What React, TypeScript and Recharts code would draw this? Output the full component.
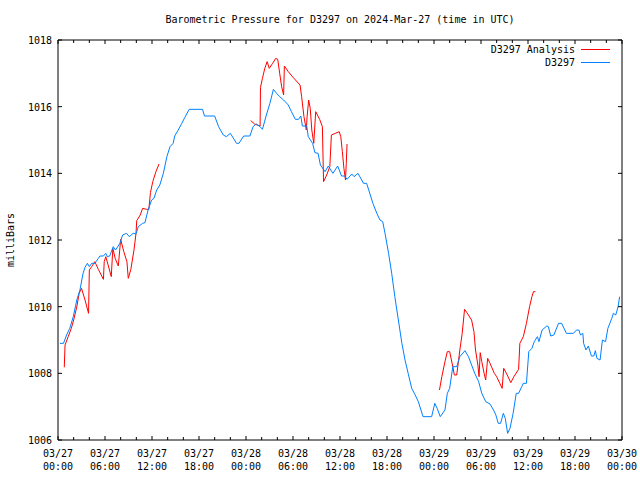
import { LineChart, Line, XAxis, YAxis, Legend } from "recharts";

const title = "Barometric Pressure for D3297 on 2024-Mar-27 (time in UTC)";
const yLabel = "milliBars";
const startDay = 27; // 03/27 00:00 UTC = hour 0

const xTicks = [0, 2, 4, 6, 8, 10, 12, 14, 16, 18, 20, 22, 24, 26, 28, 30, 32, 34, 36, 38, 40, 42, 44, 46, 48, 50, 52, 54, 56, 58, 60, 62, 64, 66, 68, 70, 72];
const yTicks = [1006, 1008, 1010, 1012, 1014, 1016, 1018];

// D3297 observations (hours since 03/27 00:00, mb)
const obsHours = [
  0.25, 0.7, 1.1, 1.5, 1.95, 2.4, 2.8, 3.2, 3.45, 3.75, 4.0, 4.3, 4.7, 5.15, 5.35, 5.8, 6.1, 6.3, 6.6, 7.05,
  7.35, 7.9, 8.25, 8.75, 9.1, 9.6, 9.95, 10.25, 10.8, 11.1, 11.5, 11.95, 12.25, 12.6, 13.0, 13.45, 13.9, 14.3, 14.7, 14.9,
  15.35, 15.8, 16.2, 16.75, 18.45, 18.7, 20.0, 20.5, 21.1, 21.5, 22.0, 22.8, 23.1, 23.7, 24.5, 24.9, 25.3, 25.8, 26.1, 26.6,
  27.05, 27.5, 27.9, 28.3, 28.8, 29.4, 29.8, 30.3, 30.7, 31.0, 31.2, 31.75, 31.95, 32.5, 32.8, 33.2, 33.5, 34.1, 34.5, 35.1,
  35.7, 36.2, 36.6, 36.9, 37.5, 37.8, 38.3, 39.0, 39.4, 39.8, 40.2, 40.7, 41.1, 41.45, 41.75, 42.2, 42.6, 43.0, 43.45, 43.9,
  44.3, 44.7, 45.15, 45.6, 46.0, 46.6, 47.7, 48.1, 48.4, 48.8, 49.4, 49.7, 50.0, 50.4, 50.9, 51.3, 51.95, 52.4, 52.8, 53.2,
  53.7, 54.1, 54.6, 55.15, 55.6, 55.9, 56.2, 56.5, 56.85, 57.1, 57.4, 57.7, 58.1, 58.5, 58.8, 59.2, 59.4, 59.8, 60.1, 60.5,
  60.8, 61.2, 61.4, 61.8, 62.4, 62.6, 62.9, 63.3, 63.9, 64.3, 64.9, 65.8, 66.2, 66.5, 66.7, 67.0, 67.1, 67.4, 67.7, 68.1,
  68.4, 68.6, 68.8, 69.2, 69.5, 69.9, 70.2, 70.7, 70.9, 71.2, 71.5, 71.7,
];
const obsPressure = [
  1008.9, 1008.9, 1009.15, 1009.35, 1009.7, 1010.2, 1010.5, 1011.0, 1011.18, 1011.3, 1011.2, 1011.3, 1011.3, 1011.45, 1011.52, 1011.52, 1011.6, 1011.5, 1011.52, 1011.8,
  1011.7, 1011.9, 1012.15, 1012.2, 1012.1, 1012.2, 1012.18, 1012.4, 1012.5, 1012.52, 1012.9, 1013.2, 1013.25, 1013.5, 1013.65, 1014.0, 1014.5, 1014.8, 1014.9, 1015.12,
  1015.3, 1015.5, 1015.68, 1015.92, 1015.92, 1015.72, 1015.72, 1015.4, 1015.15, 1015.1, 1015.2, 1014.9, 1014.9, 1015.12, 1015.12, 1015.4, 1015.48, 1015.4, 1015.32, 1015.75,
  1016.1, 1016.52, 1016.4, 1016.3, 1016.2, 1016.05, 1015.85, 1015.62, 1015.62, 1015.72, 1015.42, 1015.42, 1015.1, 1014.9, 1014.62, 1014.6, 1014.25, 1014.05, 1014.22, 1014.0,
  1014.22, 1013.92, 1013.92, 1013.82, 1013.98, 1013.9, 1014.0, 1013.7, 1013.7, 1013.4, 1013.1, 1012.8, 1012.6, 1012.55, 1012.2, 1011.6, 1011.0, 1010.3, 1009.6, 1008.9,
  1008.4, 1008.0, 1007.55, 1007.35, 1007.15, 1006.7, 1006.7, 1007.1, 1006.95, 1006.7, 1006.9, 1007.4, 1007.55, 1008.2, 1008.2, 1008.5, 1008.68, 1008.5, 1008.25, 1008.0,
  1007.75, 1007.4, 1007.15, 1007.08, 1006.9, 1006.75, 1006.5, 1006.5, 1006.8, 1006.65, 1006.2, 1006.35, 1006.8, 1007.4, 1007.4, 1007.6, 1007.7, 1007.7, 1008.65, 1008.75,
  1008.95, 1009.1, 1008.95, 1009.3, 1009.42, 1009.4, 1009.12, 1009.15, 1009.5, 1009.5, 1009.2, 1009.2, 1009.3, 1009.3, 1009.15, 1009.2, 1008.9, 1008.7, 1008.82, 1008.52,
  1008.52, 1008.68, 1008.45, 1008.4, 1009.0, 1008.95, 1009.35, 1009.65, 1009.8, 1009.75, 1010.0, 1010.3,
];

// D3297 Analysis, three runs; null = gap
const anaHours = [
  0.8, 0.9, 1.3, 1.7, 2.0, 2.4, 2.7, 3.0, 3.45, 3.9, 4.0, 4.3, 4.7, 5.15, 5.8, 5.9, 6.1, 6.4, 6.8, 7.0,
  7.3, 7.7, 8.0, 8.4, 8.8, 8.97, 9.3, 9.7, 9.96, 10.05, 10.5, 10.8, 11.3, 11.6, 11.8, 12.1, 12.5, 12.9,
  18.0,
  24.6, 25.1, 25.8, 25.85, 26.1, 26.4, 26.7, 26.97, 27.4, 27.8, 28.05, 28.3, 28.55, 28.8, 28.9, 29.4, 30.0, 30.9, 31.1, 31.4,
  31.7, 31.8, 32.0, 32.2, 32.4, 32.65, 32.9, 33.4, 33.75, 33.9, 34.3, 34.7, 34.9, 35.4, 35.9, 36.1, 36.3, 36.5, 36.7, 36.8, 36.9,
  42.0,
  48.7, 49.0, 49.4, 49.7, 50.0, 50.4, 50.6, 50.9, 51.3, 51.6, 51.9, 52.2, 52.8, 53.1, 53.3, 53.6, 53.75, 53.9, 54.1, 54.4,
  54.6, 54.85, 55.15, 55.7, 56.0, 56.4, 56.7, 56.9, 57.35, 57.8, 58.2, 58.8, 58.96, 59.4, 59.8, 60.2, 60.5, 60.7, 60.95,
];
const anaPressure = [
  1008.18, 1008.85, 1009.1, 1009.35, 1009.6, 1010.0, 1010.4, 1010.55, 1010.2, 1009.8, 1011.1, 1011.2, 1011.35, 1011.12, 1010.82, 1011.35, 1011.5, 1011.25, 1010.9, 1011.75,
  1011.45, 1011.22, 1012.02, 1011.65, 1011.35, 1010.85, 1011.12, 1011.7, 1012.2, 1012.58, 1012.75, 1012.95, 1012.92, 1012.92, 1013.42, 1013.75, 1014.05, 1014.28,
  null,
  1015.58, 1015.48, 1015.42, 1016.58, 1016.85, 1017.15, 1017.35, 1017.15, 1017.3, 1017.45, 1017.42, 1017.0, 1016.6, 1016.35, 1017.22, 1017.05, 1016.88, 1016.65, 1016.3, 1015.7,
  1015.3, 1015.7, 1016.2, 1015.95, 1015.3, 1014.9, 1015.85, 1015.62, 1015.4, 1013.75, 1013.95, 1014.2, 1015.15, 1015.2, 1015.25, 1015.1, 1014.65, 1014.15, 1013.8, 1014.3, 1014.88,
  null,
  1007.5, 1007.9, 1008.35, 1008.65, 1008.65, 1008.2, 1007.95, 1007.95, 1008.7, 1009.2, 1009.92, 1009.82, 1009.6, 1009.25, 1008.7, 1008.25, 1007.9, 1008.62, 1008.35, 1008.0,
  1007.8, 1008.45, 1008.3, 1008.0, 1007.9, 1007.7, 1007.55, 1008.15, 1007.95, 1007.72, 1007.9, 1008.12, 1008.9, 1009.1, 1009.5, 1010.0, 1010.3, 1010.45, 1010.45,
];

const obsData = obsHours.map((h, i) => ({ h, p: obsPressure[i] }));
const anaData = anaHours.map((h, i) => ({ h, p: anaPressure[i] }));

const FONT = "'DejaVu Sans Mono', 'Liberation Mono', monospace";
const ANA_COLOR = "#ff0000";
const OBS_COLOR = "#0080ff";

// frame layout
const W = 640;
const H = 480;
const M_TOP = 39;
const M_RIGHT = 17;
const Y_AXIS_W = 58;
const X_AXIS_H = 40;
const PLOT_TOP = 40;
const PLOT_BOTTOM = H - X_AXIS_H;
const PLOT_LEFT = Y_AXIS_W;
const PLOT_RIGHT = 622;

function pad(n: number) {
  return n < 10 ? "0" + n : "" + n;
}

function BottomTick({ x, payload }: any) {
  const h = payload.value;
  const major = h % 6 === 0;
  const day = startDay + Math.floor(h / 24);
  const month = day > 31 ? 4 : 3;
  const dd = day > 31 ? day - 31 : day;
  const y = PLOT_BOTTOM;
  return (
    <g>
      <line x1={x} y1={y} x2={x} y2={y - (major ? 4 : 3)} stroke="#000" />
      {major && (
        <text x={x} y={y} textAnchor="middle" fontFamily={FONT} fontSize={10} fill="#000">
          <tspan x={x} dy={17}>{`${pad(month)}/${pad(dd)}`}</tspan>
          <tspan x={x} dy={13}>{`${pad(h % 24)}:00`}</tspan>
        </text>
      )}
    </g>
  );
}

function TopTick({ x, payload }: any) {
  const major = payload.value % 6 === 0;
  return <line x1={x} y1={PLOT_TOP} x2={x} y2={PLOT_TOP + (major ? 4 : 3)} stroke="#000" />;
}

function LeftTick({ y, payload }: any) {
  const x = PLOT_LEFT;
  return (
    <g>
      <line x1={x} y1={y} x2={x + 4} y2={y} stroke="#000" />
      <text x={x - 6} y={y + 4} textAnchor="end" fontFamily={FONT} fontSize={10} fill="#000">
        {payload.value}
      </text>
    </g>
  );
}

function RightTick({ y }: any) {
  return <line x1={PLOT_RIGHT} y1={y} x2={PLOT_RIGHT - 4} y2={y} stroke="#000" />;
}

function YLabel() {
  const cx = 14;
  const cy = (PLOT_TOP + PLOT_BOTTOM) / 2;
  return (
    <text x={cx} y={cy} transform={`rotate(-90 ${cx} ${cy})`} textAnchor="middle" fontFamily={FONT} fontSize={10} fill="#000">
      {yLabel}
    </text>
  );
}

function LegendBox() {
  const rows = [
    { name: "D3297 Analysis", color: ANA_COLOR },
    { name: "D3297", color: OBS_COLOR },
  ];
  return (
    <div style={{ fontFamily: FONT, fontSize: 10, color: "#000" }}>
      {rows.map((r) => (
        <div key={r.name} style={{ display: "flex", justifyContent: "flex-end", alignItems: "center", height: 13, lineHeight: "13px" }}>
          <span>{r.name}</span>
          <svg width={30} height={13} style={{ marginLeft: 5 }}>
            <line x1={1} y1={6.5} x2={30} y2={6.5} stroke={r.color} strokeWidth={1} />
          </svg>
        </div>
      ))}
    </div>
  );
}

export default function App() {
  return (
    <div style={{ position: "absolute", left: 0, top: 0, width: W, height: H, background: "#fff" }}>
      <div
        style={{
          position: "absolute",
          left: PLOT_LEFT,
          width: PLOT_RIGHT - PLOT_LEFT,
          top: 13,
          textAlign: "center",
          fontFamily: FONT,
          fontSize: 10,
          lineHeight: "14px",
          color: "#000",
          whiteSpace: "pre",
        }}
      >
        {title}
      </div>
      <LineChart width={W} height={H} margin={{ top: M_TOP, right: M_RIGHT, bottom: 0, left: 0 }}>
        <XAxis
          xAxisId="bottom"
          type="number"
          dataKey="h"
          domain={[0, 72]}
          ticks={xTicks}
          interval={0}
          height={X_AXIS_H}
          tickSize={0}
          tickMargin={0}
          tick={<BottomTick />}
          axisLine={{ stroke: "#000" }}
          allowDataOverflow
        />
        <XAxis
          xAxisId="top"
          orientation="top"
          type="number"
          dataKey="h"
          domain={[0, 72]}
          ticks={xTicks}
          interval={0}
          height={1}
          tickSize={0}
          tickMargin={0}
          tick={<TopTick />}
          axisLine={{ stroke: "#000" }}
          allowDataOverflow
        />
        <YAxis
          yAxisId="left"
          type="number"
          domain={[1006, 1018]}
          ticks={yTicks}
          interval={0}
          width={Y_AXIS_W}
          tickSize={0}
          tickMargin={0}
          tick={<LeftTick />}
          axisLine={{ stroke: "#000" }}
          label={<YLabel />}
          allowDataOverflow
        />
        <YAxis
          yAxisId="right"
          orientation="right"
          type="number"
          domain={[1006, 1018]}
          ticks={yTicks}
          interval={0}
          width={1}
          tickSize={0}
          tickMargin={0}
          tick={<RightTick />}
          axisLine={{ stroke: "#000" }}
          allowDataOverflow
        />
        <Legend
          layout="horizontal"
          verticalAlign="middle"
          align="center"
          content={<LegendBox />}
          wrapperStyle={{ position: "absolute", left: 400, top: 42.5, width: 210, height: 26 }}
        />
        <Line
          xAxisId="bottom"
          yAxisId="left"
          data={anaData}
          dataKey="p"
          name="D3297 Analysis"
          type="linear"
          stroke={ANA_COLOR}
          strokeWidth={1}
          dot={false}
          connectNulls={false}
          isAnimationActive={false}
        />
        <Line
          xAxisId="top"
          yAxisId="right"
          data={obsData}
          dataKey="p"
          name="D3297"
          type="linear"
          stroke={OBS_COLOR}
          strokeWidth={1}
          dot={false}
          isAnimationActive={false}
        />
      </LineChart>
    </div>
  );
}
